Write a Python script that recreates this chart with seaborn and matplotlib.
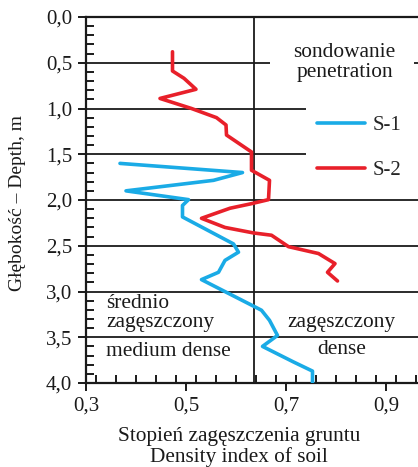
import numpy as np
import pandas as pd
import matplotlib
matplotlib.use("Agg")
import matplotlib.pyplot as plt
import seaborn as sns
from matplotlib.ticker import MultipleLocator, FuncFormatter

# ---- data ----
s1_density = [0.368, 0.613, 0.555, 0.380, 0.505, 0.493, 0.493, 0.595, 0.605, 0.578,
              0.565, 0.531, 0.635, 0.651, 0.667, 0.683, 0.653, 0.715, 0.753, 0.753]
s1_depth = [1.60, 1.70, 1.785, 1.90, 1.996, 2.06, 2.185, 2.48, 2.57, 2.66,
            2.79, 2.87, 3.16, 3.205, 3.315, 3.48, 3.60, 3.77, 3.87, 4.00]
s2_density = [0.473, 0.473, 0.496, 0.520, 0.448, 0.511, 0.561, 0.580, 0.581, 0.631,
              0.631, 0.667, 0.665, 0.631, 0.588, 0.531, 0.578, 0.635, 0.671, 0.705,
              0.765, 0.798, 0.783, 0.803]
s2_depth = [0.38, 0.59, 0.67, 0.79, 0.89, 1.00, 1.10, 1.18, 1.29, 1.475,
            1.675, 1.785, 1.996, 2.04, 2.09, 2.20, 2.30, 2.36, 2.385, 2.51,
            2.585, 2.695, 2.79, 2.885]
series_names = ["S-1", "S-2"]
series_colors = ["#1AABE6", "#E8202A"]
boundary_density = 0.635
x_ticks = [0.3, 0.5, 0.7, 0.9]
y_ticks = [0.0, 0.5, 1.0, 1.5, 2.0, 2.5, 3.0, 3.5, 4.0]

df = pd.concat([
    pd.DataFrame({"density": s1_density, "depth": s1_depth, "series": series_names[0]}),
    pd.DataFrame({"density": s2_density, "depth": s2_depth, "series": series_names[1]}),
], ignore_index=True)

sns.set_style("ticks")
plt.rcParams["font.family"] = ["Liberation Serif", "DejaVu Serif"]

fig = plt.figure(figsize=(4.18, 4.67), dpi=100)
ax = fig.add_axes([86 / 418, 1 - 383 / 467, 1 - 86 / 418, (383 - 17) / 467])

ax.set_xlim(0.3, 0.3 + (418 - 86) / 500)
ax.set_ylim(4.0, 0.0)

# grid lines / boundary
lc = "#1a1a1a"
ax.axvline(boundary_density, color=lc, lw=1.3, zorder=1)
ax.hlines(0.5, 0.3, 0.668, color=lc, lw=1.3, zorder=1)
ax.hlines(0.5, 0.956, 0.97, color=lc, lw=1.3, zorder=1)
ax.hlines([1.0, 1.5], 0.3, 0.74, color=lc, lw=1.3, zorder=1)
ax.hlines([2.0, 2.5, 3.0, 3.5], 0.3, 1.0, color=lc, lw=1.3, zorder=1)

sns.lineplot(data=df, x="density", y="depth", hue="series", palette=series_colors,
             sort=False, estimator=None, lw=2.6, ax=ax, zorder=3)

handles, labels = ax.get_legend_handles_labels()
ax.legend(handles, labels, loc="upper left", bbox_to_anchor=(0.696, 0.730),
          frameon=False, fontsize=15, handlelength=2.3, handletextpad=0.35,
          labelspacing=1.2, borderpad=0, borderaxespad=0)

# spines
for s in ["left", "bottom", "top"]:
    ax.spines[s].set_linewidth(1.6)
    ax.spines[s].set_color(lc)
ax.spines["right"].set_visible(False)

ax.xaxis.set_major_locator(plt.FixedLocator(x_ticks))
ax.xaxis.set_minor_locator(MultipleLocator(0.04))
ax.yaxis.set_major_locator(plt.FixedLocator(y_ticks))
ax.yaxis.set_minor_locator(MultipleLocator(0.1))
fmt = FuncFormatter(lambda v, p: f"{v:.1f}".replace(".", ","))
ax.xaxis.set_major_formatter(fmt)
ax.yaxis.set_major_formatter(fmt)
ax.tick_params(which="major", direction="out", length=6, width=1.4, color=lc,
               labelsize=15, labelcolor=lc, pad=4)
ax.tick_params(which="minor", direction="in", length=6, width=1.4, color=lc)
ax.tick_params(axis="x", which="both", top=False)

ax.set_xlabel("Stopień zagęszczenia gruntu\nDensity index of soil", fontsize=15.3,
              color=lc, linespacing=1.07)
ax.xaxis.set_label_coords((239 - 86) / 332, -(447 - 383) / 366)
ax.xaxis.label.set_va("center")
ax.set_ylabel("Głębokość – Depth, m", fontsize=14, color=lc)
ax.yaxis.set_label_coords((18 - 86) / 332, (383 - 203) / 366)
ax.yaxis.label.set_va("center")

tk = dict(fontsize=15.4, color=lc)
ax.text(0.817, 0.495, "sondowanie\npenetration", ha="center", va="center",
        linespacing=1.05, **tk)
ax.text(0.34, 3.23, "średnio\nzagęszczony", ha="left", va="center",
        linespacing=1.0, **tk)
ax.text(0.34, 3.66, "medium dense", ha="left", va="center", **tk)
ax.text(0.81, 3.34, "zagęszczony", ha="center", va="center", **tk)
ax.text(0.812, 3.63, "dense", ha="center", va="center", **tk)

fig.savefig("out.png", dpi=100)
